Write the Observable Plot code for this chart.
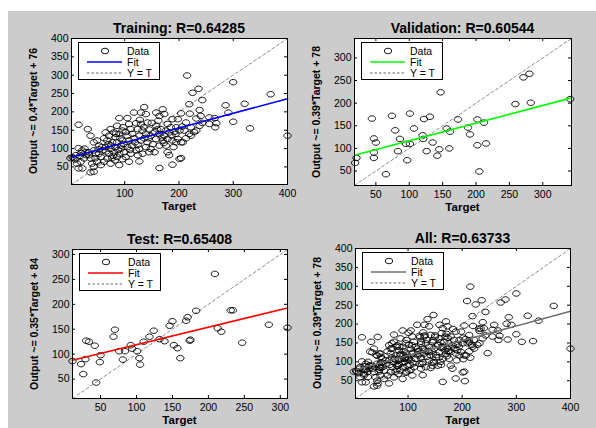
<!DOCTYPE html>
<html><head><meta charset="utf-8">
<script src="https://cdn.jsdelivr.net/npm/d3@7"></script>
<script src="https://cdn.jsdelivr.net/npm/@observablehq/plot@0.6"></script>
<style>
body{margin:0;background:#fff;}
#fig{position:relative;width:596px;height:428px;overflow:hidden;background:#fff;font-family:Arial,"Liberation Sans",sans-serif;}
#bg{position:absolute;left:8px;top:11px;width:588px;height:417px;background:#cccccc;}
.plotbox{position:absolute;}
.title{position:absolute;font-weight:bold;font-size:14px;white-space:nowrap;transform:translate(-50%,-50%);color:#000;}
.xlab{position:absolute;font-weight:bold;font-size:11.5px;white-space:nowrap;transform:translate(-50%,-50%);color:#000;}
.ylab{position:absolute;font-weight:bold;font-size:10.5px;white-space:nowrap;transform:translate(-50%,-50%) rotate(-90deg);color:#000;}
.legend{position:absolute;background:#fff;}
</style></head>
<body><div id="fig"><div id="bg"></div></div>
<script>
// ---- data: [Target, Output] ----
const trainingPoints = [
[0,74],[6,74],[10,82],[15,101],[22,95],[28,90],[12,59],[19,64],[25,73],[29,82],[15,46],[22,46],[15,165],[4,76],[9,70],[18,80],[26,100],[20,88],
[32,153],[37,135],[43,117],[49,122],[53,108],[34,90],[43,95],[53,86],[59,95],[37,73],[46,74],[56,77],[40,59],[49,64],[43,37],[37,35],[43,50],[56,55],[34,82],[58,104],[47,86],[52,98],
[65,144],[74,153],[80,144],[71,135],[83,131],[90,140],[96,149],[68,122],[77,117],[86,117],[96,122],[65,104],[74,99],[83,104],[93,108],[71,86],[80,90],[90,86],[99,90],[68,73],[77,74],[86,77],[96,71],[90,55],[62,64],[74,59],[90,183],[86,162],[97,158],[62,128],[70,112],[88,96],[94,100],[79,80],[66,92],[84,140],[92,128],[75,108],[98,112],[82,68],
[105,183],[117,198],[130,198],[136,213],[139,194],[108,167],[121,169],[130,167],[142,171],[111,153],[124,153],[133,149],[145,152],[105,135],[114,140],[127,135],[139,140],[148,135],[108,122],[119,117],[130,122],[142,117],[105,104],[114,108],[127,99],[139,104],[148,99],[111,86],[124,82],[133,86],[108,64],[127,65],[102,77],[121,95],[145,90],[102,145],[118,128],[136,128],[124,110],[110,96],[144,128],[135,158],[128,178],
[158,198],[170,207],[173,194],[164,189],[179,167],[188,180],[198,180],[158,162],[167,153],[176,149],[185,158],[195,158],[155,144],[164,140],[173,135],[182,144],[192,146],[201,149],[158,126],[170,122],[179,126],[188,122],[198,126],[164,108],[176,108],[155,90],[179,90],[182,82],[164,47],[188,56],[201,72],[204,74],[204,117],[207,117],[195,117],[152,112],[160,152],[168,130],[186,136],[194,140],[172,115],[190,104],[150,170],[162,176],
[215,299],[225,252],[236,263],[243,232],[219,221],[220,195],[204,196],[238,205],[240,189],[232,182],[213,171],[222,158],[210,149],[219,140],[232,149],[238,162],[213,128],[222,135],[243,170],[206,160],[228,145],
[256,185],[266,183],[269,169],[267,158],[256,167],[286,218],[291,198],[300,281],[300,173],[321,222],[331,155],[369,248],[400,135]
];
const validationPoints = [
[19,68],[21,79],[44,166],[47,122],[50,113],[47,91],[47,79],[65,43],[74,172],[79,140],[86,121],[83,94],[95,110],[101,110],[97,74],[101,177],[107,144],[120,129],[121,121],[122,165],[126,94],[131,170],[135,113],[142,84],[145,98],[147,224],[156,144],[161,137],[160,100],[173,164],[188,146],[191,131],[202,164],[202,107],[205,49],[212,157],[215,111],[259,198],[271,257],[280,265],[282,201],[341,209]
];
const testPoints = [
[11,86],[23,80],[26,60],[29,90],[30,127],[34,125],[42,117],[44,43],[49,84],[50,98],[68,135],[70,149],[76,106],[81,89],[84,106],[92,118],[94,111],[101,106],[104,92],[105,79],[110,125],[118,135],[124,147],[132,130],[139,126],[146,157],[150,166],[152,118],[157,112],[161,92],[169,167],[171,174],[174,127],[175,129],[183,187],[209,261],[213,152],[218,145],[231,188],[234,188],[247,123],[284,159],[310,153]
];
const allPoints = trainingPoints.concat(validationPoints, testPoints);

const titles = ["Training: R=0.64285", "Validation: R=0.60544", "Test: R=0.65408", "All: R=0.63733"];
const yLabels = ["Output ~= 0.4*Target + 76", "Output ~= 0.39*Target + 78", "Output ~= 0.35*Target + 84", "Output ~= 0.39*Target + 78"];
const fitSlopes = [0.4, 0.39, 0.35, 0.39];
const fitIntercepts = [76, 78, 84, 78];
const axisDomains = [[2,400],[18,343],[11,310],[3,400]];
const xTickValues = [[100,200,300,400],[50,100,150,200,250,300],[50,100,150,200,250,300],[100,200,300,400]];
const yTickValues = [[50,100,150,200,250,300,350,400],[50,100,150,200,250,300],[50,100,150,200,250,300],[50,100,150,200,250,300,350,400]];
const legendLabels = ["Data", "Fit", "Y = T"];
const pointSets = [trainingPoints, validationPoints, testPoints, allPoints];

// ---- layout / style ----
const fitColors = ["#0000ff", "#00ff00", "#ff0000", "#6e6e6e"];
const frames = [[71,38,287,184],[354,38,571,185],[72,249,287,398],[355,248,570,398]];
const ML = 60, MR = 12, MT = 8, MB = 26;

const ellipse = {
  draw(ctx, size) {
    const r = Math.sqrt(size / Math.PI), rx = r, ry = r * 0.75, k = 0.5523;
    ctx.moveTo(rx, 0);
    ctx.bezierCurveTo(rx, ry * k, rx * k, ry, 0, ry);
    ctx.bezierCurveTo(-rx * k, ry, -rx, ry * k, -rx, 0);
    ctx.bezierCurveTo(-rx, -ry * k, -rx * k, -ry, 0, -ry);
    ctx.bezierCurveTo(rx * k, -ry, rx, -ry * k, rx, 0);
    ctx.closePath();
  }
};

const fig = document.getElementById("fig");

for (let i = 0; i < 4; i++) {
  const [fl, ft, fr, fb] = frames[i];
  const pw = fr - fl, ph = fb - ft;
  const dom = axisDomains[i];
  const pts = pointSets[i].map(([t, o]) => ({t, o}));
  const fit = dom.map(t => ({t, o: fitSlopes[i] * t + fitIntercepts[i]}));
  const ident = dom.map(t => ({t, o: t}));
  const chart = Plot.plot({
    width: pw + ML + MR, height: ph + MT + MB,
    marginLeft: ML, marginRight: MR, marginTop: MT, marginBottom: MB,
    x: {domain: dom},
    y: {domain: dom},
    style: {background: "transparent", fontFamily: "Arial, 'Liberation Sans', sans-serif", fontSize: "10.5px", overflow: "visible", color: "#000"},
    marks: [
      Plot.frame({fill: "#fff", stroke: null}),
      Plot.line(ident, {x: "t", y: "o", stroke: "#808080", strokeWidth: 0.9, strokeDasharray: "3,2.5"}),
      Plot.dot(pts, {x: "t", y: "o", r: 3.7, symbol: ellipse, stroke: "#000", strokeWidth: 0.9, fill: "none"}),
      Plot.line(fit, {x: "t", y: "o", stroke: fitColors[i], strokeWidth: 1.6}),
      Plot.tickX(xTickValues[i], {x: d => d, insetTop: ph - 3, stroke: "#000"}),
      Plot.tickX(xTickValues[i], {x: d => d, insetBottom: ph - 3, stroke: "#000"}),
      Plot.tickY(yTickValues[i], {y: d => d, insetRight: pw - 3, stroke: "#000"}),
      Plot.tickY(yTickValues[i], {y: d => d, insetLeft: pw - 3, stroke: "#000"}),
      Plot.frame({stroke: "#000", strokeWidth: 1}),
      Plot.axisX({ticks: xTickValues[i], tickSize: 0, tickPadding: 5, label: null}),
      Plot.axisY({ticks: yTickValues[i], tickSize: 0, tickPadding: 3, label: null})
    ]
  });
  const box = document.createElement("div");
  box.className = "plotbox";
  box.style.left = (fl - ML) + "px";
  box.style.top = (ft - MT) + "px";
  box.appendChild(chart);
  fig.appendChild(box);

  const title = document.createElement("div");
  title.className = "title";
  title.textContent = titles[i];
  title.style.left = ((fl + fr) / 2) + "px";
  title.style.top = (ft - 10) + "px";
  fig.appendChild(title);

  const xl = document.createElement("div");
  xl.className = "xlab";
  xl.textContent = "Target";
  xl.style.left = ((fl + fr) / 2) + "px";
  xl.style.top = (fb + 22) + "px";
  fig.appendChild(xl);

  const yl = document.createElement("div");
  yl.className = "ylab";
  yl.textContent = yLabels[i];
  yl.style.left = (fl - 38) + "px";
  yl.style.top = ((ft + fb) / 2) + "px";
  fig.appendChild(yl);

  // legend
  const lw = 82, lh = 38;
  const lg = d3.select(fig).append("svg").attr("class", "legend")
    .attr("width", lw).attr("height", lh)
    .style("left", (fl + 7) + "px").style("top", (ft + 4) + "px");
  lg.append("rect").attr("x", 0.5).attr("y", 0.5).attr("width", lw - 1).attr("height", lh - 1)
    .attr("fill", "#fff").attr("stroke", "#000");
  const rows = [9, 20, 31];
  lg.append("ellipse").attr("cx", 27).attr("cy", rows[0]).attr("rx", 3.7).attr("ry", 2.8)
    .attr("fill", "none").attr("stroke", "#000").attr("stroke-width", 0.9);
  lg.append("line").attr("x1", 9).attr("x2", 44).attr("y1", rows[1]).attr("y2", rows[1])
    .attr("stroke", fitColors[i]).attr("stroke-width", 1.6);
  lg.append("line").attr("x1", 9).attr("x2", 44).attr("y1", rows[2]).attr("y2", rows[2])
    .attr("stroke", "#555").attr("stroke-width", 0.9).attr("stroke-dasharray", "2.5,2");
  legendLabels.forEach((lab, j) => {
    lg.append("text").attr("x", 49).attr("y", rows[j]).attr("dy", "0.35em")
      .attr("font-family", "Arial, 'Liberation Sans', sans-serif").attr("font-size", 10.5)
      .attr("fill", "#000").text(lab);
  });
}
</script>
</body></html>
